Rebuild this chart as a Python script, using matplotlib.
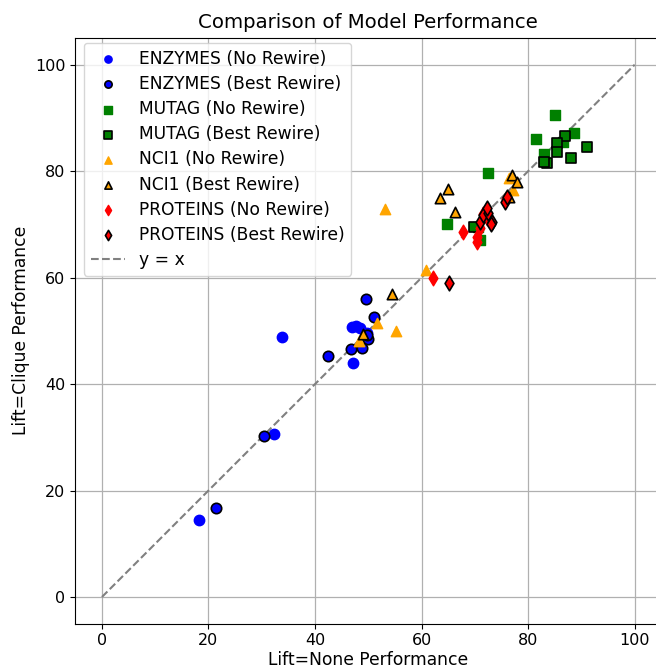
import numpy as np
import matplotlib
matplotlib.use('Agg')
import matplotlib.pyplot as plt

'''
Data read off the reference (x = Lift=None, y = Lift=Clique)
'''
enz_no_x = [18.3, 32.3, 33.8, 47.1, 46.9, 47.6, 48.4, 49.7, 49.4]
enz_no_y = [14.5, 30.7, 48.8, 43.9, 50.8, 51.0, 50.6, 49.6, 49.0]
enz_best_x = [21.5, 30.5, 42.4, 46.8, 48.8, 49.6, 50.0, 51.1, 49.8]
enz_best_y = [16.8, 30.2, 45.2, 46.5, 46.7, 55.9, 48.5, 52.6, 49.3]

mut_no_x = [72.4, 85.0, 81.4, 88.6, 82.9, 86.5, 64.7, 71.0, 70.5]
mut_no_y = [79.6, 90.6, 86.1, 87.2, 83.3, 85.5, 70.0, 67.0, 69.5]
mut_best_x = [87.0, 85.5, 85.5, 88.0, 91.0, 83.5, 82.9, 69.8]
mut_best_y = [86.7, 85.2, 83.6, 82.5, 84.6, 81.6, 81.8, 69.6]

nci_no_x = [53.2, 55.2, 60.8, 51.6, 48.2, 77.1, 76.5]
nci_no_y = [72.8, 50.0, 61.4, 51.5, 48.1, 76.5, 78.8]
nci_best_x = [63.4, 64.9, 66.2, 76.9, 77.9, 76.4, 54.4, 49.0]
nci_best_y = [75.0, 76.7, 72.4, 79.3, 78.0, 75.2, 57.0, 49.4]

pro_no_x = [62.1, 67.7, 70.4, 70.4, 70.9, 71.5, 72.3, 75.8]
pro_no_y = [60.0, 68.6, 66.7, 67.7, 69.4, 72.0, 71.2, 74.8]
pro_best_x = [65.1, 70.9, 71.5, 73.2, 72.4, 75.6, 76.0, 72.2, 73.0]
pro_best_y = [59.0, 70.5, 71.8, 70.5, 72.2, 74.2, 75.2, 73.1, 70.0]

datasets = ['ENZYMES', 'MUTAG', 'NCI1', 'PROTEINS']
colors = ['blue', 'green', 'orange', 'red']
markers = ['o', 's', '^', 'd']
no_x = [enz_no_x, mut_no_x, nci_no_x, pro_no_x]
no_y = [enz_no_y, mut_no_y, nci_no_y, pro_no_y]
best_x = [enz_best_x, mut_best_x, nci_best_x, pro_best_x]
best_y = [enz_best_y, mut_best_y, nci_best_y, pro_best_y]

fig = plt.figure(figsize=(6.56, 6.70), dpi=100)
# right spine falls just outside the saved image, as in the original crop
ax = fig.add_axes([75.3/656, 46.4/670, 586/656, 585.5/670])

for i in range(len(datasets)):
    ax.scatter(no_x[i], no_y[i], color=colors[i], marker=markers[i], s=56,
               label=datasets[i] + ' (No Rewire)', zorder=3)
    ax.scatter(best_x[i], best_y[i], color=colors[i], marker=markers[i], s=56,
               edgecolors='black', linewidths=1.2,
               label=datasets[i] + ' (Best Rewire)', zorder=3)

ax.plot([0, 100], [0, 100], linestyle='--', color='gray', linewidth=1.5, label='y = x', zorder=2)

ax.set_title('Comparison of Model Performance', fontsize=14.2, pad=7)
ax.set_xlabel('Lift=None Performance', fontsize=12.3, labelpad=2)
ax.set_ylabel('Lift=Clique Performance', fontsize=12.3)
ax.tick_params(labelsize=11.5)
ax.grid(True, color='#b0b0b0', linewidth=0.9)
ax.set_axisbelow(True)
ax.legend(loc='upper left', fontsize=12.3, markerscale=0.7, labelspacing=0.42,
          bbox_to_anchor=(0.0, 1.0065))

plt.savefig('out.png', dpi=100)
